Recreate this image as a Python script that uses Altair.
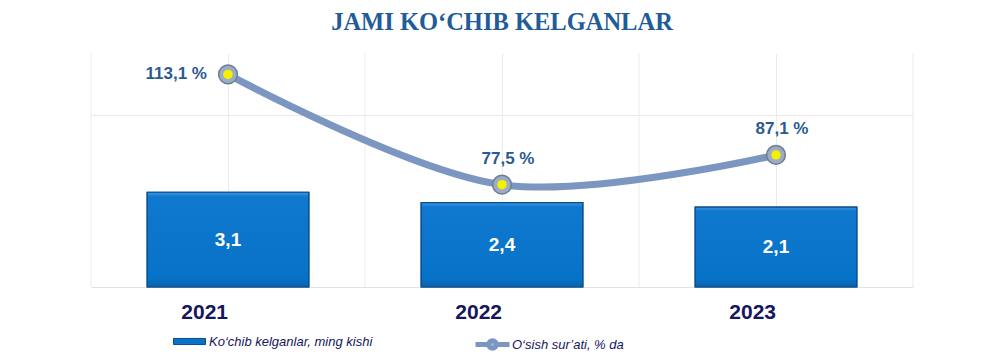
import altair as alt
import pandas as pd

# ---- data ----
years = ["2021", "2022", "2023"]
arrivals = [3.1, 2.4, 2.1]          # Ko‘chib kelganlar, ming kishi
growth = [113.1, 77.5, 87.1]        # O‘sish sur’ati, % da

BAR_NAME = "Ko‘chib kelganlar, ming kishi"
LINE_NAME = "O‘sish sur’ati, % da"
TITLE = "JAMI KO‘CHIB KELGANLAR"

# scale settings (axis ranges of the original two-axis chart)
BAR_DOMAIN = [-3.23, 12.4]
LINE_DOMAIN = [44.5, 120]

df = pd.DataFrame({"year": years, "arrivals": arrivals, "growth": growth})
df["bar_series"] = BAR_NAME
df["line_series"] = LINE_NAME

W, H = 822, 234
BAR_BLUE = "#0873c9"
LINE_COL = "#7b97c1"
GRID = "#ebebeb"
NAVY = "#16165e"
LABEL_BLUE = "#2b5a92"

base = alt.Chart(df)

x_main = alt.X(
    "year:N",
    scale=alt.Scale(paddingInner=0, paddingOuter=0),
    axis=alt.Axis(
        title=None, labelAngle=0, ticks=False, domainColor="#e3e3e3",
        grid=True, gridColor=GRID, labelFont="Liberation Sans",
        labelFontWeight="bold", labelFontSize=21, labelColor=NAVY,
        labelPadding=25,
    ),
)
x_plain = alt.X("year:N")

ybar = alt.Y("arrivals:Q", scale=alt.Scale(domain=BAR_DOMAIN), axis=None)

# grid rules at band edges
edge_rules = base.mark_rule(color=GRID, strokeWidth=1).encode(
    x=alt.X("year:N", bandPosition=0)
)
right_rule = base.transform_filter(
    alt.datum.year == years[-1]
).mark_rule(color=GRID, strokeWidth=1).encode(x=alt.X("year:N", bandPosition=1))

bars = base.mark_bar(width={"band": 0.59}, stroke="#0b4c86", strokeWidth=1.2).encode(
    x=x_main,
    y=ybar,
    y2=alt.Y2Datum(BAR_DOMAIN[0]),
    fill=alt.Fill(
        "bar_series:N",
        scale=alt.Scale(range=[BAR_BLUE]),
        legend=alt.Legend(
            title=None, orient="none", legendX=82, legendY=272, padding=0,
            symbolType="M-1,-0.19L1,-0.19L1,0.19L-1,0.19Z", symbolSize=1024,
            symbolStrokeColor="#0b4c86", symbolStrokeWidth=1,
            labelFont="Liberation Sans", labelFontStyle="italic",
            labelFontSize=13, labelColor=NAVY, labelOffset=3, labelLimit=400,
        ),
    ),
)

bar_shine = base.mark_bar(
    width={"band": 0.59},
    fill=alt.Gradient(
        gradient="linear", x1=0, y1=0, x2=0, y2=1,
        stops=[
            alt.GradientStop(offset=0, color="#3c95e2"),
            alt.GradientStop(offset=0.05, color="#0f78cf"),
            alt.GradientStop(offset=0.9, color="#0773c8"),
            alt.GradientStop(offset=1, color="#0a62ad"),
        ],
    ),
    stroke="#0b4c86", strokeWidth=1.2,
).encode(x=x_plain, y=ybar, y2=alt.Y2Datum(BAR_DOMAIN[0]))

bar_text = base.transform_calculate(
    mid=f"(datum.arrivals + ({BAR_DOMAIN[0]})) / 2",
    lab="replace(format(datum.arrivals, '.1f'), '.', ',')",
).mark_text(
    font="Liberation Sans", fontWeight="bold", fontSize=19, color="white",
    baseline="middle",
).encode(
    x=x_plain,
    y=alt.Y("mid:Q", scale=alt.Scale(domain=BAR_DOMAIN), axis=None),
    text="lab:N",
)

yline = alt.Y(
    "growth:Q", scale=alt.Scale(domain=LINE_DOMAIN),
    axis=alt.Axis(labels=False, ticks=False, domain=False, grid=True,
                  gridColor=GRID, values=[100], title=None),
)
yline_plain = alt.Y("growth:Q", scale=alt.Scale(domain=LINE_DOMAIN), axis=None)

line = base.mark_line(strokeWidth=7, interpolate="catmull-rom").encode(
    x=x_plain,
    y=yline,
    stroke=alt.Stroke(
        "line_series:N",
        scale=alt.Scale(range=[LINE_COL]),
        legend=alt.Legend(
            title=None, orient="none", legendX=382, legendY=272, padding=0,
            symbolType="M-1,0L-0.2,0M0.2,0L1,0M0.22,0A0.22,0.22,0,1,1,-0.22,0A0.22,0.22,0,1,1,0.22,0Z",
            symbolSize=1156, symbolStrokeWidth=5, symbolFillColor="#aebcd2",
            labelFont="Liberation Sans", labelFontStyle="italic",
            labelFontSize=13, labelColor=NAVY, labelOffset=0, labelLimit=400,
        ),
    ),
)

pts_outer = base.mark_point(
    shape="circle", filled=True, size=350, fill="#9badc6", stroke="#6e7d92",
    strokeWidth=1.5, opacity=1,
).encode(x=x_plain, y=yline_plain)
pts_inner = base.mark_point(
    shape="circle", filled=True, size=90, fill="#f5f000", opacity=1,
).encode(x=x_plain, y=yline_plain)

lab_expr = "replace(format(datum.growth, '.1f'), '.', ',') + ' %'"
line_lab_first = base.transform_filter(alt.datum.year == years[0]).transform_calculate(
    lab=lab_expr
).mark_text(
    font="Liberation Sans", fontWeight="bold", fontSize=17, color=LABEL_BLUE,
    align="right", baseline="middle", dx=-21,
).encode(x=x_plain, y=yline_plain, text="lab:N")
line_lab_rest = base.transform_filter(alt.datum.year != years[0]).transform_calculate(
    lab=lab_expr
).mark_text(
    font="Liberation Sans", fontWeight="bold", fontSize=17, color=LABEL_BLUE,
    align="center", baseline="middle", dx=6, dy=-26,
).encode(x=x_plain, y=yline_plain, text="lab:N")

chart = alt.layer(
    edge_rules, right_rule, bars, bar_shine, bar_text,
    line, pts_outer, pts_inner, line_lab_first, line_lab_rest,
).resolve_scale(y="independent").properties(
    width=W, height=H,
    background="white",
    autosize=alt.AutoSizeParams(type="none"),
    padding={"left": 83, "top": 45, "right": 79, "bottom": 67},
    title=alt.TitleParams(
        TITLE, font="Liberation Serif", fontSize=24.5, fontWeight="bold",
        color="#1f5c99", anchor="middle", offset=17,
    ),
).configure_view(stroke=None)

chart.save("out.html", embed_options={"renderer": "svg", "actions": False})
